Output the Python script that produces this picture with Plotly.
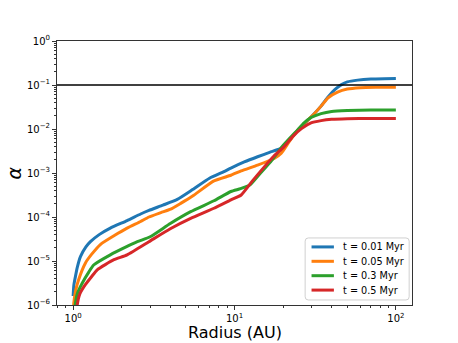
import plotly.graph_objects as go

# radius (AU) and alpha, one pair of lists per epoch
r_001 = [1.0, 1.01, 1.034, 1.06, 1.11, 1.2, 1.28, 1.45, 1.7, 2.16, 2.62, 2.95, 3.6, 4.42, 5.5, 7.0, 8.6,
         9.5, 11.5, 13.9, 16.5, 19.4, 22, 25, 30, 34.4, 38, 42, 46, 50, 58, 70, 85, 100]
a_001 = [1.6e-6, 2.8e-6, 4.5e-6, 7.1e-6, 1.26e-5, 2.09e-5, 2.75e-5, 3.98e-5, 5.6e-5, 8.3e-5, 1.17e-4,
         1.41e-4, 1.86e-4, 2.51e-4, 4.2e-4, 7.6e-4, 1.07e-3, 1.29e-3, 1.78e-3, 2.34e-3, 2.95e-3, 3.63e-3,
         5.62e-3, 1.0e-2, 1.91e-2, 3.31e-2, 5.37e-2, 7.94e-2, 0.102, 0.1175, 0.129, 0.1365, 0.1396, 0.141]

r_005 = [1.0, 1.01, 1.04, 1.08, 1.19, 1.3, 1.48, 1.8, 2.16, 2.62, 2.95, 3.5, 4.02, 4.64, 5.5, 7.46, 9.5,
         11, 13.9, 17.6, 19.5, 22, 25, 30, 34.4, 38, 43.5, 50, 60, 75, 100]
a_005 = [6.3e-7, 1.12e-6, 2.24e-6, 3.7e-6, 8.9e-6, 1.41e-5, 2.4e-5, 3.8e-5, 5.6e-5, 7.9e-5, 1.0e-4,
         1.26e-4, 1.51e-4, 2.04e-4, 3.0e-4, 6.6e-4, 8.9e-4, 1.12e-3, 1.51e-3, 2.14e-3, 2.82e-3, 5.4e-3,
         1.0e-2, 1.91e-2, 3.31e-2, 5.1e-2, 6.9e-2, 8.1e-2, 8.7e-2, 8.9e-2, 8.9e-2]

r_03 = [1.02, 1.03, 1.06, 1.14, 1.25, 1.34, 1.7, 2.16, 2.5, 3.0, 4.0, 5.35, 7.46, 9.5, 10.9, 12.5, 14.5,
        16.8, 20, 24.6, 27, 29.8, 34.4, 40, 50, 70, 100]
a_03 = [6.3e-7, 1.0e-6, 1.78e-6, 3.16e-6, 5.6e-6, 8.1e-6, 1.38e-5, 2.14e-5, 2.75e-5, 3.55e-5, 7.1e-5,
        1.32e-4, 2.34e-4, 3.8e-4, 4.4e-4, 5.4e-4, 1.0e-3, 1.82e-3, 4.2e-3, 9.5e-3, 1.38e-2, 1.82e-2,
        2.24e-2, 2.51e-2, 2.63e-2, 2.69e-2, 2.72e-2]

r_05 = [1.05, 1.06, 1.1, 1.19, 1.3, 1.41, 1.79, 2.16, 2.95, 4.0, 5.35, 7.46, 9.5, 11.0, 13, 15.3, 17.5,
        20.3, 23, 26, 29.8, 34.4, 40, 50, 70, 100]
a_05 = [6.3e-7, 1.0e-6, 1.78e-6, 2.9e-6, 4.4e-6, 6.3e-6, 1.07e-5, 1.38e-5, 2.75e-5, 5.4e-5, 9.3e-5,
        1.58e-4, 2.45e-4, 3.16e-4, 6.8e-4, 1.38e-3, 2.4e-3, 3.98e-3, 6.8e-3, 1.02e-2, 1.38e-2, 1.55e-2,
        1.66e-2, 1.72e-2, 1.74e-2, 1.74e-2]

labels = ['t = 0.01 Myr', 't = 0.05 Myr', 't = 0.3 Myr', 't = 0.5 Myr']
colors = ['#1f77b4', '#ff7f0e', '#2ca02c', '#d62728']
alpha_line = 0.1

x_ticks = [1, 10, 100]
x_ticktext = ['10<sup>0</sup>', '10<sup>1</sup>', '10<sup>2</sup>']
y_ticks = [1e-6, 1e-5, 1e-4, 1e-3, 1e-2, 1e-1, 1]
y_ticktext = ['10<sup>\u22126</sup>', '10<sup>\u22125</sup>', '10<sup>\u22124</sup>', '10<sup>\u22123</sup>',
              '10<sup>\u22122</sup>', '10<sup>\u22121</sup>', '10<sup>0</sup>']

fig = go.Figure()

for r, a, name, c in zip([r_001, r_005, r_03, r_05], [a_001, a_005, a_03, a_05], labels, colors):
    fig.add_trace(go.Scatter(x=r, y=a, mode='lines', name=name, showlegend=False,
                             line=dict(color=c, width=3, shape='spline', smoothing=0.5)))

# horizontal reference line at alpha = 0.1
fig.add_hline(y=alpha_line, line=dict(color='black', width=1.5))

# compact matplotlib-style legend box in the lower right (paper coords)
bx0, bx1, by0, by1, rx, ry = 0.699, 0.992, 0.019, 0.254, 0.009, 0.012
box_path = (f'M {bx0+rx},{by0} L {bx1-rx},{by0} Q {bx1},{by0} {bx1},{by0+ry} '
            f'L {bx1},{by1-ry} Q {bx1},{by1} {bx1-rx},{by1} L {bx0+rx},{by1} '
            f'Q {bx0},{by1} {bx0},{by1-ry} L {bx0},{by0+ry} Q {bx0},{by0} {bx0+rx},{by0} Z')
fig.add_shape(type='path', path=box_path, xref='paper', yref='paper',
              fillcolor='rgba(255,255,255,0.8)', line=dict(color='#d0d0d0', width=1))
annotations = []
for i, (name, c) in enumerate(zip(labels, colors)):
    yc = 0.220 - i * 0.0545
    fig.add_shape(type='line', xref='paper', yref='paper', x0=0.717, x1=0.780, y0=yc, y1=yc,
                  line=dict(color=c, width=3))
    annotations.append(dict(text=name, xref='paper', yref='paper', x=0.799, y=yc, xanchor='left',
                            yanchor='middle', showarrow=False, font=dict(size=9.7)))

minor_x = [m * 10 ** k for k in range(-1, 3) for m in range(2, 10)]
minor_y = [m * 10.0 ** k for k in range(-7, 1) for m in range(2, 10)]

annotations += [
    dict(text='Radius (AU)', xref='paper', yref='paper', x=0.5, y=-0.106, xanchor='center',
         yanchor='middle', showarrow=False, font=dict(size=16)),
    dict(text='<i>\u03b1</i>', xref='paper', x=-0.12, yref='paper', y=0.5, xanchor='center',
         yanchor='middle', showarrow=False, textangle=-90, font=dict(size=19)),
]

# the page puts the figure ~8px in from the top-left corner, margins allow for that
fig.update_layout(
    width=458, height=343,
    margin=dict(l=49, r=54, t=33, b=46, autoexpand=False),
    paper_bgcolor='white', plot_bgcolor='white',
    font=dict(family='DejaVu Sans', size=10, color='black'),
    showlegend=False,
    xaxis=dict(type='log', range=[-0.1, 2.1], showgrid=False, zeroline=False, automargin=False,
               showline=True, mirror=True, linecolor='#333', linewidth=1,
               tickmode='array', tickvals=x_ticks, ticktext=x_ticktext,
               ticks='outside', ticklen=4, tickcolor='#333',
               minor=dict(tickmode='array', tickvals=minor_x, ticks='outside', ticklen=2, tickcolor='#333')),
    yaxis=dict(type='log', range=[-6, 0], showgrid=False, zeroline=False, automargin=False,
               showline=True, mirror=True, linecolor='#333', linewidth=1,
               tickmode='array', tickvals=y_ticks, ticktext=y_ticktext,
               ticks='outside', ticklen=4, tickcolor='#333',
               minor=dict(tickmode='array', tickvals=minor_y, ticks='outside', ticklen=2, tickcolor='#333')),
    annotations=annotations,
)

fig.write_html("out.html")
